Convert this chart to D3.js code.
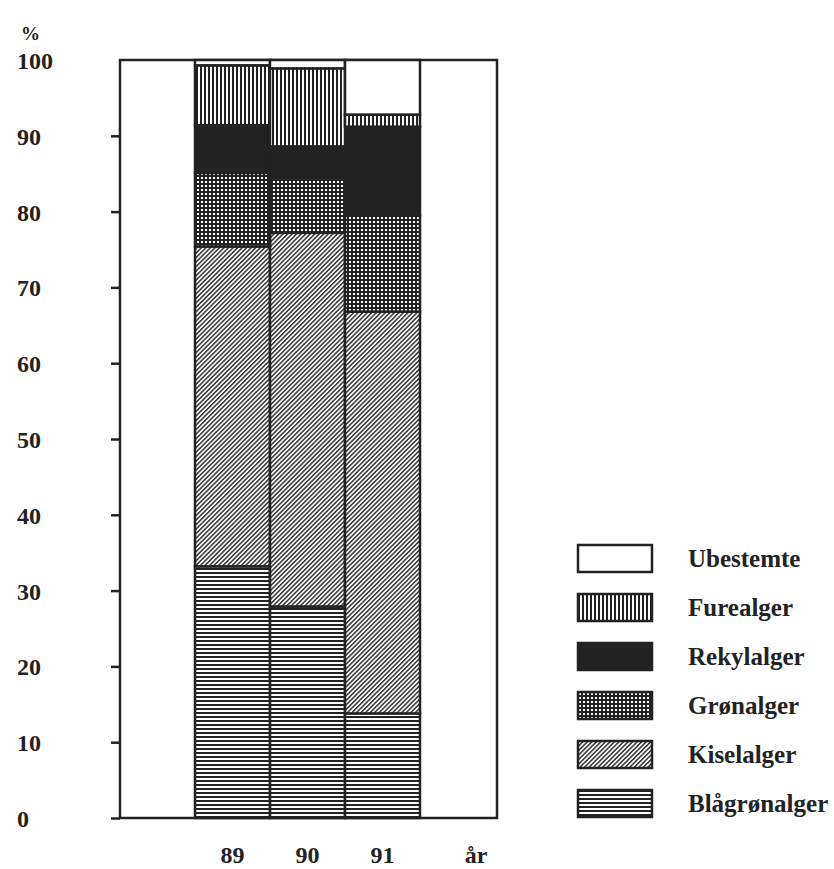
<!DOCTYPE html>
<html>
<head>
<meta charset="utf-8">
<script src="https://cdnjs.cloudflare.com/ajax/libs/d3/7.8.5/d3.min.js"></script>
<style>
  body { margin: 0; background: #fff; }
  text { font-family: "Liberation Serif", "DejaVu Serif", serif; fill: #222; }
</style>
</head>
<body>
<div id="chart"></div>
<script>
// stacked percentage bars, one pattern per algae group

var years = ['89', '90', '91'];
var groups = ['Blågrønalger', 'Kiselalger', 'Grønalger', 'Rekylalger', 'Furealger', 'Ubestemte'];

// percent of total
var blagronalger = [33.2, 27.9, 13.8];
var kiselalger = [42.2, 49.3, 53.0];
var gronalger = [9.7, 7.3, 12.7];
var rekylalger = [6.3, 4.1, 11.7];
var furealger = [7.9, 10.3, 1.6];
var ubestemte = [0.7, 1.1, 7.2];

var y_ticks = [0, 10, 20, 30, 40, 50, 60, 70, 80, 90, 100];

var chart_width = 834;
var chart_height = 869;
var ink = '#222';

var series_values = [blagronalger, kiselalger, gronalger, rekylalger, furealger, ubestemte];
var table = years.map(function(yr, i) {
  var row = { year: yr };
  groups.forEach(function(g, j) {
    row[g] = series_values[j][i];
  });
  return row;
});

var svg = d3.select('#chart')
  .append('svg')
  .attr('width', chart_width)
  .attr('height', chart_height);

// patterns
var defs = svg.append('defs');
var pattern_ids = {};

function addPattern(id, size, draw) {
  var p = defs.append('pattern')
    .attr('id', id)
    .attr('patternUnits', 'userSpaceOnUse')
    .attr('width', size)
    .attr('height', size);
  draw(p);
  return 'url(#' + id + ')';
}

pattern_ids['Ubestemte'] = '#fff';
pattern_ids['Furealger'] = addPattern('p-vert', 4, function(p) {
  p.append('rect').attr('width', 4).attr('height', 4).attr('fill', '#fff');
  p.append('rect').attr('x', 0).attr('width', 2).attr('height', 4).attr('fill', ink);
});
pattern_ids['Rekylalger'] = ink;
pattern_ids['Grønalger'] = addPattern('p-grid', 4, function(p) {
  p.append('rect').attr('width', 4).attr('height', 4).attr('fill', ink);
  p.append('rect').attr('x', 1).attr('y', 1).attr('width', 2).attr('height', 2).attr('fill', '#fff');
});
pattern_ids['Kiselalger'] = addPattern('p-diag', 3.2, function(p) {
  p.attr('patternTransform', 'rotate(45)');
  p.append('rect').attr('width', 3.2).attr('height', 3.2).attr('fill', '#fff');
  p.append('rect').attr('x', 0).attr('width', 1.5).attr('height', 3.2).attr('fill', '#333');
});
pattern_ids['Blågrønalger'] = addPattern('p-horiz', 4, function(p) {
  p.append('rect').attr('width', 4).attr('height', 4).attr('fill', '#fff');
  p.append('rect').attr('y', 0).attr('width', 4).attr('height', 2).attr('fill', ink);
});

// scales
var frame = { left: 120, right: 497, top: 60, bottom: 818 };

var y_scale = d3.scaleLinear()
  .domain([0, 100])
  .range([frame.bottom, frame.top]);

var x_scale = d3.scaleBand()
  .domain(years)
  .range([195, 420])
  .paddingInner(0);

var stack = d3.stack().keys(groups);
var stacked = stack(table);

// frame
svg.append('rect')
  .attr('x', frame.left)
  .attr('y', frame.top)
  .attr('width', frame.right - frame.left)
  .attr('height', frame.bottom - frame.top)
  .attr('fill', 'none')
  .attr('stroke', ink)
  .attr('stroke-width', 2.5);

// bars
svg.append('g')
  .attr('class', 'bars')
  .selectAll('g')
  .data(stacked)
  .enter()
  .append('g')
  .selectAll('rect')
  .data(function(s) {
    return s.map(function(d) { d.key = s.key; return d; });
  })
  .enter()
  .append('rect')
  .attr('x', function(d) { return x_scale(d.data.year); })
  .attr('y', function(d) { return y_scale(d[1]); })
  .attr('width', x_scale.bandwidth())
  .attr('height', function(d) { return y_scale(d[0]) - y_scale(d[1]); })
  .attr('fill', function(d) { return pattern_ids[d.key]; })
  .attr('stroke', ink)
  .attr('stroke-width', 2.5);

// y axis
var y_axis = d3.axisLeft(y_scale)
  .tickValues(y_ticks)
  .tickSize(9)
  .tickFormat(d3.format('d'));

var y_g = svg.append('g')
  .attr('class', 'y-axis')
  .attr('transform', 'translate(' + frame.left + ',0)')
  .call(y_axis);

y_g.select('.domain').remove();
y_g.selectAll('line')
  .attr('stroke', ink)
  .attr('stroke-width', 2.5)
  .filter(function(d) { return d === 100; })
  .remove();
y_g.selectAll('text')
  .attr('x', -103)
  .attr('dy', '0.35em')
  .attr('text-anchor', 'start')
  .style('font-size', '24px')
  .style('font-weight', 'bold')
  .style('font-family', '"Liberation Serif", serif')
  .attr('fill', ink);

svg.append('text')
  .attr('x', 21)
  .attr('y', 40)
  .style('font-size', '19px')
  .style('font-weight', 'bold')
  .text('%');

// x axis labels
var x_axis = d3.axisBottom(x_scale).tickSize(0).tickPadding(0);
var x_g = svg.append('g')
  .attr('class', 'x-axis')
  .attr('transform', 'translate(0,' + 846 + ')')
  .call(x_axis);
x_g.select('.domain').remove();
x_g.selectAll('text')
  .style('font-size', '24px')
  .style('font-weight', 'bold')
  .style('font-family', '"Liberation Serif", serif')
  .attr('fill', ink);

svg.append('text')
  .attr('x', 476)
  .attr('y', 863)
  .attr('text-anchor', 'middle')
  .style('font-size', '24px')
  .style('font-weight', 'bold')
  .text('år');

// legend, top entry is the top of the stack
var legend_items = groups.slice().reverse();
var legend = svg.append('g')
  .attr('class', 'legend')
  .selectAll('g')
  .data(legend_items)
  .enter()
  .append('g')
  .attr('transform', function(d, i) {
    return 'translate(578,' + (545 + i * 49) + ')';
  });

legend.append('rect')
  .attr('width', 74)
  .attr('height', 27)
  .attr('fill', function(d) { return pattern_ids[d]; })
  .attr('stroke', ink)
  .attr('stroke-width', 2.5);

legend.append('text')
  .attr('x', 110)
  .attr('y', 22)
  .style('font-size', '25px')
  .style('font-weight', 'bold')
  .text(function(d) { return d; });
</script>
</body>
</html>
